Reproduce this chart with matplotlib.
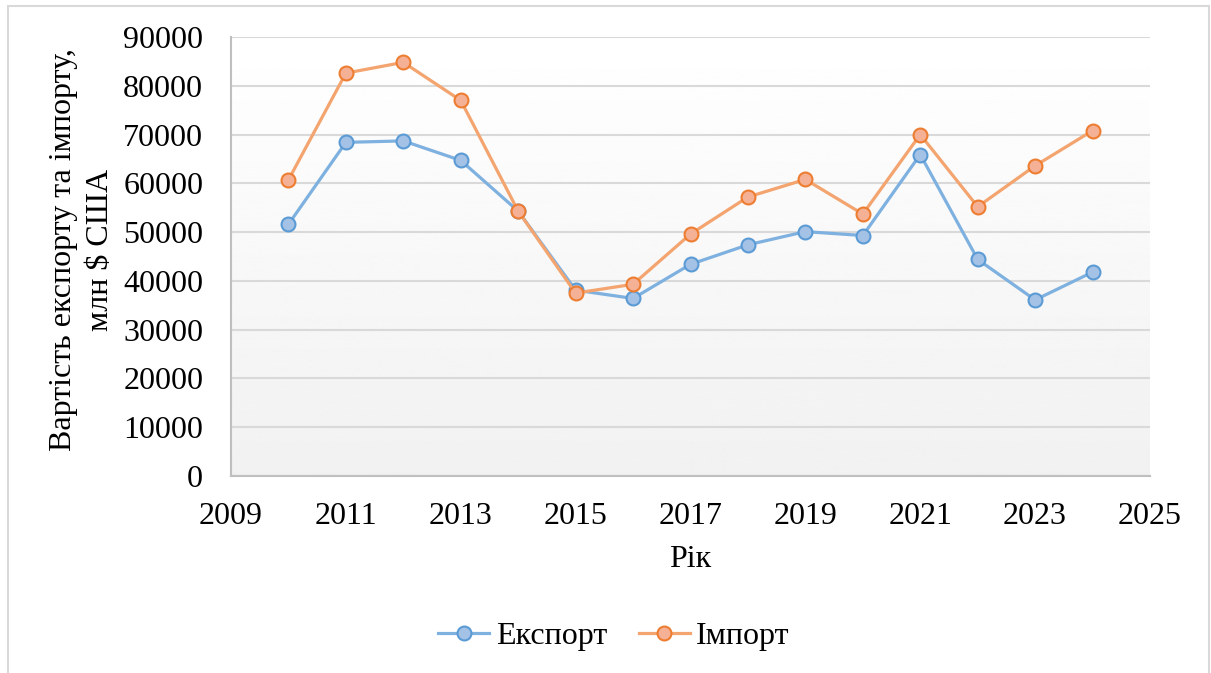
import numpy as np
import matplotlib.pyplot as plt
from matplotlib.patches import Rectangle

years = [2010, 2011, 2012, 2013, 2014, 2015, 2016, 2017, 2018, 2019, 2020, 2021, 2022, 2023, 2024]
export = [51600, 68400, 68700, 64700, 54300, 38100, 36400, 43400, 47400, 50100, 49300, 65900, 44400, 36100, 41800]
imports = [60700, 82600, 84800, 77000, 54300, 37500, 39300, 49600, 57200, 60800, 53700, 70000, 55200, 63600, 70800]

plt.rcParams['font.family'] = ['Liberation Serif', 'DejaVu Serif']

fig = plt.figure(figsize=(12.11, 6.73), dpi=100)
ax = fig.add_axes([231 / 1211, 1 - 476 / 673, 919 / 1211, 439 / 673])

# outer chart border
fig.patches.append(Rectangle((8 / 1211, -0.01), 1201 / 1211, 1 - 6 / 673 + 0.01,
                             transform=fig.transFigure, fill=False,
                             edgecolor='#d9d9d9', linewidth=1.5))

# gradient plot background
grad = np.linspace(1.0, 0.945, 256).reshape(-1, 1)
ax.imshow(grad, cmap='gray', vmin=0, vmax=1, aspect='auto',
          extent=[2009, 2025, 0, 90000], origin='upper', zorder=0)

ax.plot(years, export, color='#7eb1df', linewidth=2.3, marker='o', markersize=10,
        markerfacecolor='#a4c1e6', markeredgecolor='#5b9bd5', markeredgewidth=1.5,
        label='Експорт', zorder=3)
ax.plot(years, imports, color='#f3a46f', linewidth=2.3, marker='o', markersize=10,
        markerfacecolor='#f5b196', markeredgecolor='#ed7d31', markeredgewidth=1.5,
        label='Імпорт', zorder=3)

ax.set_xlim(2009, 2025)
ax.set_ylim(0, 90000)
ax.set_xticks(range(2009, 2026, 2))
ax.set_yticks(range(0, 90001, 10000))
ax.grid(axis='y', color='#d9d9d9', linewidth=1.5, zorder=1)
ax.set_axisbelow(True)
ax.tick_params(length=0, labelsize=23, colors='black')
ax.tick_params(axis='x', pad=19)
ax.tick_params(axis='y', pad=20)
for s in ['top', 'right']:
    ax.spines[s].set_visible(False)
for s in ['left', 'bottom']:
    ax.spines[s].set_color('#bfbfbf')
    ax.spines[s].set_linewidth(1.5)

ax.set_xlabel('Рік', fontsize=23, labelpad=10)
fig.text(82 / 1211, 1 - 250 / 673, 'Вартість експорту та імпорту,\nмлн $ США',
         rotation=90, ha='center', va='center', multialignment='center',
         fontsize=23, linespacing=1.4)

fig.legend(loc='center', bbox_to_anchor=(614 / 1211, 1 - 636 / 673), ncol=2,
           frameon=False, fontsize=23, handlelength=1.6, columnspacing=1.0,
           handletextpad=0.2)

fig.savefig('out.png', dpi=100)
